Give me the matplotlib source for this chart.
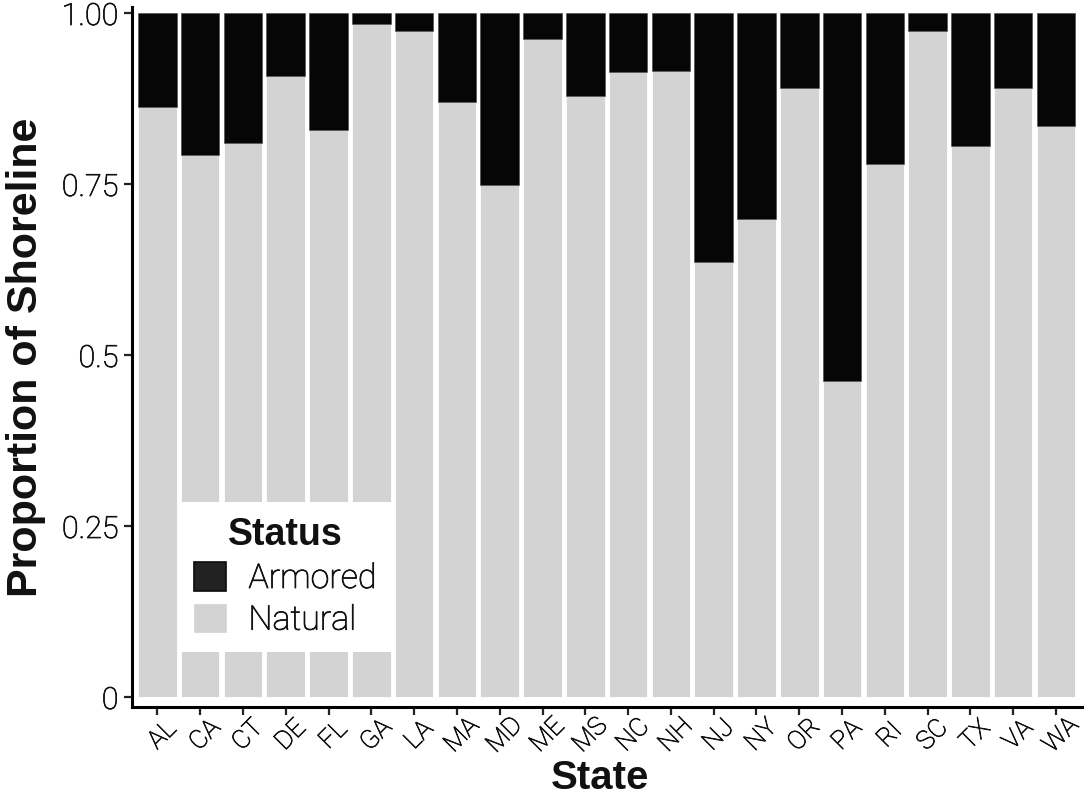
import matplotlib
matplotlib.use("Agg")
import matplotlib.pyplot as plt
from matplotlib.patches import Patch
import matplotlib.transforms as mtransforms
import matplotlib.patheffects as pe
import numpy as np

states = ["AL", "CA", "CT", "DE", "FL", "GA", "LA", "MA", "MD", "ME", "MS",
          "NC", "NH", "NJ", "NY", "OR", "PA", "RI", "SC", "TX", "VA", "WA"]
natural = [0.863, 0.793, 0.810, 0.908, 0.830, 0.984, 0.975, 0.871, 0.749, 0.963, 0.879,
           0.915, 0.916, 0.636, 0.700, 0.891, 0.463, 0.780, 0.975, 0.807, 0.891, 0.836]
armored = [0.137, 0.207, 0.190, 0.092, 0.170, 0.016, 0.025, 0.129, 0.251, 0.037, 0.121,
           0.085, 0.084, 0.364, 0.300, 0.109, 0.537, 0.220, 0.025, 0.193, 0.109, 0.164]
y_ticks = [0, 0.25, 0.5, 0.75, 1.0]
y_ticklabels = ["0", "0.25", "0.5", "0.75", "1.00"]

LIGHT = ["Roboto", "DejaVu Sans"]
BOLD = ["Liberation Sans", "DejaVu Sans"]
plt.rcParams["font.family"] = LIGHT

GRAY = "#d2d3d2"
BLACK = "#060606"
TXT = "#111111"
THICK = [pe.withStroke(linewidth=0.55, foreground=TXT)]

fig = plt.figure(figsize=(10.84, 8), dpi=100)
W, H = 1084, 800
ax = fig.add_axes([131.7 / W, 1 - 707 / H, 950 / W, 700 / H])

x = np.arange(len(states))
ax.bar(x, natural, width=0.9, color=GRAY, edgecolor="white", linewidth=0.6)
ax.bar(x, armored, width=0.9, bottom=natural, color=BLACK, edgecolor="#444444", linewidth=0.4)

ax.set_xlim(-0.6, len(states) - 0.4)
ax.set_ylim(-0.0139, 1.0095)

for s in ["top", "right"]:
    ax.spines[s].set_visible(False)
for s in ["left", "bottom"]:
    ax.spines[s].set_linewidth(2.2)
    ax.spines[s].set_color("black")

ax.tick_params(axis="both", length=5.5, width=1.6, color="#222222")
ax.tick_params(axis="y", pad=4)
ax.tick_params(axis="x", pad=14.7)

ax.set_yticks(y_ticks)
ax.set_yticklabels(y_ticklabels, fontsize=22, fontweight="light", color=TXT)
ax.set_xticks(x)
ax.set_xticklabels(states, fontsize=18.5, fontweight="light", color=TXT,
                   rotation=45, ha="center", va="center", rotation_mode="anchor")
offset = mtransforms.ScaledTranslation(5 / 100, 0, fig.dpi_scale_trans)
for lbl in ax.get_xticklabels():
    lbl.set_transform(lbl.get_transform() + offset)
    lbl.set_path_effects(THICK)
for lbl in ax.get_yticklabels():
    lbl.set_path_effects(THICK)

ax.set_xlabel("State", fontsize=29, fontweight="bold", color=TXT, family=BOLD)
ax.xaxis.set_label_coords((600 - 131.7) / 950, -(759 - 707) / 700)
ax.set_ylabel("Proportion of Shoreline", fontsize=31, fontweight="bold", color=TXT, family=BOLD)
ax.yaxis.set_label_coords((46 - 131.7) / 950, 0.5)

handles = [Patch(facecolor="#222222", edgecolor="#0a0a0a", linewidth=1.2, label="Armored"),
           Patch(facecolor=GRAY, edgecolor=GRAY, linewidth=0.5, label="Natural")]
leg = ax.legend(handles=handles, title="Status", loc="lower left",
                bbox_to_anchor=((179 - 131.7) / 950, (707 - 652) / 700),
                prop={"family": LIGHT, "size": 24.5, "weight": "light"},
                title_fontproperties={"family": BOLD, "size": 27, "weight": "bold"},
                frameon=True, fancybox=False, framealpha=1, facecolor="white",
                edgecolor="none", borderpad=0.45, handlelength=0.93, handleheight=0.93,
                handletextpad=0.66, labelspacing=0.25, borderaxespad=0)
for t in leg.get_texts():
    t.set_color(TXT)
    t.set_path_effects(THICK)
leg.get_title().set_color(TXT)

fig.savefig("out.png", dpi=100, facecolor="white")
